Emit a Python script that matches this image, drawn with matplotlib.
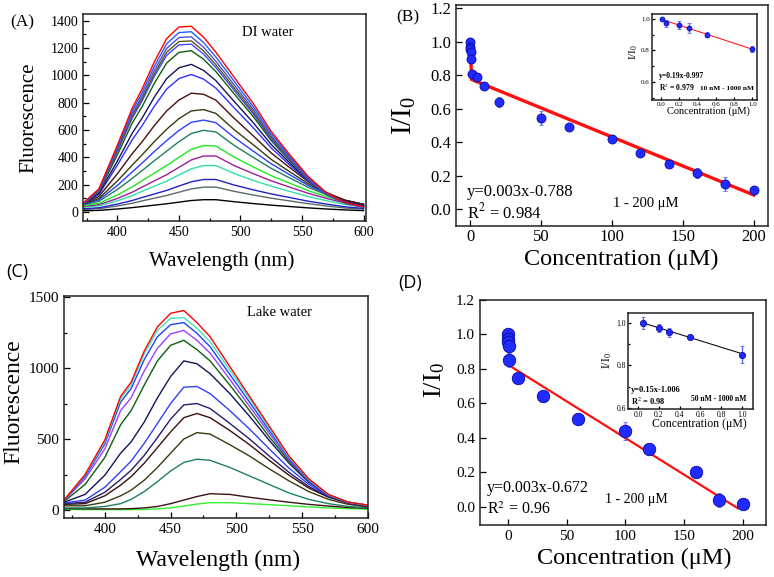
import matplotlib
matplotlib.use('Agg')
import matplotlib.pyplot as plt
from matplotlib.ticker import MultipleLocator

plt.rcParams['font.family'] = ['Liberation Serif', 'DejaVu Serif']
plt.rcParams['mathtext.fontset'] = 'stix'

W, H = 774, 577

# wavelength grid (nm) shared by all spectra
wl = [369, 385, 400, 412, 420, 430, 440, 450, 460, 470, 480, 495, 510, 525, 540, 555, 570, 585, 600]

# (A) DI water spectra, bottom -> top
spec_a = [
    [8, 12, 22, 32, 40, 50, 60, 72, 84, 90, 90, 75, 62, 50, 40, 30, 22, 15, 10],
    [17, 24, 44, 64, 81, 101, 121, 145, 169, 182, 182, 151, 125, 101, 81, 61, 44, 29, 20],
    [22, 31, 58, 84, 106, 132, 158, 190, 221, 238, 238, 197, 163, 132, 106, 79, 58, 38, 26],
    [31, 45, 82, 120, 151, 189, 226, 271, 316, 340, 340, 281, 233, 189, 151, 113, 82, 55, 38],
    [37, 54, 99, 145, 182, 228, 273, 327, 381, 410, 410, 339, 282, 228, 182, 137, 99, 66, 46],
    [42, 64, 125, 184, 229, 285, 340, 401, 459, 487, 483, 401, 332, 266, 211, 156, 112, 74, 50],
    [46, 79, 165, 246, 303, 376, 446, 515, 575, 598, 586, 487, 402, 319, 249, 181, 126, 82, 55],
    [47, 89, 195, 293, 358, 443, 523, 597, 657, 673, 654, 545, 448, 353, 273, 195, 133, 85, 56],
    [48, 99, 228, 343, 418, 516, 606, 684, 740, 750, 722, 602, 495, 385, 295, 207, 138, 86, 57],
    [48, 114, 281, 427, 514, 633, 740, 820, 870, 862, 819, 685, 561, 432, 325, 222, 142, 86, 55],
    [41, 129, 344, 529, 632, 775, 900, 977, 1007, 973, 907, 761, 621, 469, 344, 225, 134, 75, 45],
    [41, 138, 374, 577, 687, 842, 977, 1056, 1081, 1037, 962, 808, 658, 494, 360, 232, 135, 74, 44],
    [37, 148, 420, 651, 771, 943, 1091, 1169, 1181, 1119, 1028, 864, 703, 522, 375, 235, 130, 67, 38],
    [35, 154, 443, 687, 813, 994, 1148, 1224, 1229, 1156, 1057, 890, 723, 534, 380, 235, 126, 63, 35],
    [35, 156, 452, 700, 829, 1013, 1170, 1248, 1253, 1179, 1078, 907, 737, 544, 387, 240, 129, 64, 35],
    [36, 160, 463, 717, 849, 1037, 1198, 1278, 1283, 1207, 1103, 929, 755, 557, 397, 245, 132, 66, 36],
    [37, 165, 476, 738, 873, 1067, 1232, 1314, 1320, 1241, 1135, 956, 776, 573, 408, 253, 136, 68, 37],
    [39, 170, 490, 760, 900, 1100, 1270, 1355, 1360, 1280, 1170, 985, 800, 590, 420, 260, 140, 70, 38],
]
colors_a = ['#000000', '#5a6a6a', '#2020c8', '#30e0a8', '#9a2098', '#20e820', '#1f7f5f', '#2a40ff',
            '#3a3a10', '#4a1010', '#3030ff', '#14145a', '#0f5f0f', '#4545ff', '#5a5a18', '#5050c8',
            '#2060ff', '#ff0000']

# (C) lake water spectra, bottom -> top
spec_c = [
    [5, 3, 3, 3, 3, 4, 8, 15, 28, 42, 52, 52, 45, 38, 30, 22, 15, 10, 6],
    [10, 8, 8, 8, 10, 15, 25, 45, 70, 95, 115, 110, 90, 72, 55, 40, 28, 18, 12],
    [15, 15, 25, 45, 75, 130, 200, 275, 335, 358, 350, 300, 240, 180, 120, 75, 45, 25, 15],
    [30, 30, 55, 100, 140, 210, 300, 400, 500, 545, 535, 460, 380, 290, 205, 130, 75, 40, 22],
    [40, 45, 100, 175, 235, 330, 440, 550, 650, 680, 650, 560, 460, 350, 245, 155, 90, 48, 26],
    [45, 55, 125, 215, 280, 385, 510, 640, 740, 750, 715, 610, 500, 380, 265, 165, 95, 50, 28],
    [50, 70, 160, 270, 345, 470, 610, 750, 865, 870, 820, 700, 570, 430, 295, 180, 100, 52, 30],
    [55, 110, 245, 400, 480, 620, 790, 940, 1050, 1030, 960, 820, 660, 490, 330, 195, 105, 55, 32],
    [60, 180, 370, 600, 700, 880, 1050, 1160, 1195, 1130, 1050, 880, 700, 515, 345, 200, 105, 55, 32],
    [65, 220, 430, 700, 790, 980, 1140, 1240, 1265, 1195, 1105, 920, 730, 540, 355, 205, 105, 55, 33],
    [68, 235, 465, 760, 855, 1060, 1220, 1305, 1320, 1245, 1150, 955, 760, 560, 365, 210, 107, 55, 34],
    [70, 245, 480, 785, 880, 1100, 1265, 1350, 1355, 1280, 1185, 985, 785, 575, 372, 215, 108, 55, 34],
    [70, 250, 493, 800, 900, 1120, 1290, 1385, 1405, 1320, 1220, 1010, 800, 590, 380, 220, 110, 55, 35],
]
colors_c = ['#30f030', '#3a1414', '#1f7f5f', '#3a3a10', '#3a1010', '#2a1a70', '#3040ff', '#14145a',
            '#0f5f0f', '#9a40ff', '#2040ff', '#40e8b8', '#ff0000']

# (B) DI water quenching
conc_b = [0.01, 0.05, 0.2, 0.3, 0.5, 1, 5, 10, 20, 50, 70, 100, 120, 140, 160, 180, 200]
ratio_b = [1.0, 0.97, 0.96, 0.94, 0.90, 0.81, 0.79, 0.735, 0.64, 0.545, 0.49, 0.42, 0.335, 0.27, 0.215, 0.15, 0.115]
err_b = [0.005, 0.02, 0.025, 0.03, 0.015, 0.02, 0.01, 0.015, 0.03, 0.04, 0.01, 0.02, 0.01, 0.01, 0.03, 0.04, 0.01]
fit_b_x = [0, 1, 200]
fit_b_y = [1.0, 0.775, 0.085]
ins_b_x = [0.01, 0.05, 0.2, 0.3, 0.5, 1.0]
ins_b_y = [1.0, 0.97, 0.96, 0.94, 0.90, 0.81]
ins_b_err = [0.005, 0.02, 0.025, 0.03, 0.015, 0.02]
ins_b_fit_x = [0, 1.0]
ins_b_fit_y = [0.997, 0.807]

# (D) lake water quenching
conc_d = [0.05, 0.2, 0.3, 0.5, 1, 8, 30, 60, 100, 120, 160, 180, 200]
ratio_d = [1.0, 0.975, 0.955, 0.935, 0.85, 0.745, 0.645, 0.51, 0.44, 0.335, 0.2, 0.04, 0.015]
err_d = [0.03, 0.02, 0.02, 0.008, 0.04, 0.01, 0.01, 0.01, 0.05, 0.02, 0.01, 0.04, 0.01]
fit_d_x = [0, 1, 196]
fit_d_y = [1.0, 0.82, -0.008]
ins_d_x = [0.05, 0.2, 0.3, 0.5, 1.0]
ins_d_y = [1.0, 0.975, 0.955, 0.935, 0.85]
ins_d_err = [0.03, 0.02, 0.02, 0.008, 0.04]
ins_d_fit_x = [0.05, 1.0]
ins_d_fit_y = [1.0, 0.855]

fig = plt.figure(figsize=(W / 100, H / 100), dpi=100)


def box(l, t, r, b):
    return fig.add_axes([l / W, 1 - b / H, (r - l) / W, (b - t) / H])


def txt(x, y, s, **kw):
    kw.setdefault('ha', 'center')
    kw.setdefault('va', 'center')
    fig.text(x / W, 1 - y / H, s, **kw)


def frame(ax, size):
    for sp in ax.spines.values():
        sp.set_linewidth(1.1)
        sp.set_color('#222222')
    ax.tick_params(which='both', direction='in', labelsize=size, width=0.9)
    ax.tick_params(which='major', length=4)
    ax.tick_params(which='minor', length=2.5)


# ---- (A)
ax = box(83, 14, 366, 221)
for row, c in zip(spec_a, colors_a):
    ax.plot(wl, row, color=c, lw=1.0)
ax.set_xlim(372, 602)
ax.set_ylim(-66, 1450)
ax.xaxis.set_major_locator(MultipleLocator(50))
ax.xaxis.set_minor_locator(MultipleLocator(25))
ax.yaxis.set_major_locator(MultipleLocator(200))
ax.yaxis.set_minor_locator(MultipleLocator(100))
frame(ax, 10)
txt(242, 32, 'DI water', ha='left', fontsize=10.5)
txt(29, 118, 'Fluorescence', rotation=90, fontsize=15)
txt(222, 261, 'Wavelength (nm)', fontsize=15)
txt(22, 22, '(A)', fontsize=12.5)

# ---- (C)
ax = box(64, 296, 368, 518)
for row, c in zip(spec_c, colors_c):
    ax.plot(wl, row, color=c, lw=1.0)
ax.set_xlim(369, 600)
ax.set_ylim(-56, 1507)
ax.xaxis.set_major_locator(MultipleLocator(50))
ax.xaxis.set_minor_locator(MultipleLocator(25))
ax.yaxis.set_major_locator(MultipleLocator(500))
ax.yaxis.set_minor_locator(MultipleLocator(250))
frame(ax, 11)
txt(247, 312, 'Lake water', ha='left', fontsize=10.5)
txt(14, 402, 'Fluorescence', rotation=90, fontsize=17)
txt(218, 560, 'Wavelength (nm)', fontsize=17)
txt(17, 272, '(C)', fontsize=13, family=['Open Sans', 'DejaVu Sans'])

marker_kw = dict(fmt='o', color='#1f2bff', mec='#0a0aa0', mew=0.6, ecolor='#5a6aff', elinewidth=1.0,
                 capsize=1.5, zorder=3)

# ---- (B)
ax = box(456, 5, 768, 226)
ax.plot(fit_b_x, fit_b_y, color='#ff1010', lw=2.4, zorder=2)
ax.errorbar(conc_b, ratio_b, yerr=err_b, ms=6.5, **marker_kw)
ax.set_xlim(-10, 210)
ax.set_ylim(-0.1, 1.22)
ax.xaxis.set_major_locator(MultipleLocator(50))
ax.yaxis.set_major_locator(MultipleLocator(0.2))
ax.yaxis.set_major_formatter('{x:.1f}')
frame(ax, 12)
ax.tick_params(axis='x', pad=2)
txt(467, 192, 'y=0.003x-0.788', ha='left', fontsize=12)
txt(467, 212, 'R$^2$ = 0.984', ha='left', fontsize=12)
txt(646, 204, '1 - 200 μM', fontsize=10.5)
txt(404, 115, r'$\mathregular{I/I_0}$', rotation=90, fontsize=21)
txt(621, 259, 'Concentration (μM)', fontsize=17.5)
txt(408, 17, '(B)', fontsize=12.5)

ax = box(652, 14, 757, 100)
ax.plot(ins_b_fit_x, ins_b_fit_y, color='#ff2020', lw=0.8, zorder=2)
ax.errorbar(ins_b_x, ins_b_y, yerr=ins_b_err, ms=3.5, **marker_kw)
ax.set_xlim(-0.1, 1.05)
ax.set_ylim(0.486, 1.03)
ax.xaxis.set_major_locator(MultipleLocator(0.2))
ax.yaxis.set_major_locator(MultipleLocator(0.2))
ax.yaxis.set_minor_locator(MultipleLocator(0.1))
ax.xaxis.set_major_formatter('{x:.1f}')
ax.yaxis.set_major_formatter('{x:.1f}')
frame(ax, 5)
ax.tick_params(which='major', length=2.5, pad=1.5)
ax.tick_params(which='minor', length=1.5)
txt(659, 76, 'y=0.19x-0.997', ha='left', fontsize=5.5, fontweight='bold')
txt(659, 87, 'R$^2$ = 0.979', ha='left', fontsize=5.5, fontweight='bold')
txt(754, 89, '10 nM - 1000 nM', ha='right', fontsize=5.3, fontweight='bold')
txt(634, 52, r'$\mathregular{I/I_0}$', rotation=90, fontsize=8)
txt(708, 111, 'Concentration (μM)', fontsize=7.5)

# ---- (D)
ax = box(480, 300, 766, 525)
ax.plot(fit_d_x, fit_d_y, color='#ff1010', lw=1.6, zorder=2)
ax.errorbar(conc_d, ratio_d, yerr=err_d, ms=9, **marker_kw)
ax.set_xlim(-24, 220)
ax.set_ylim(-0.105, 1.2)
ax.xaxis.set_major_locator(MultipleLocator(50))
ax.yaxis.set_major_locator(MultipleLocator(0.2))
ax.yaxis.set_major_formatter('{x:.1f}')
frame(ax, 11)
txt(487, 488, 'y=0.003x-0.672', ha='left', fontsize=11.5)
txt(487, 510, 'R$^2$ = 0.96', ha='left', fontsize=11.5)
txt(636, 500, '1 - 200 μM', fontsize=10)
txt(435, 380, r'$\mathregular{I/I_0}$', rotation=90, fontsize=19)
txt(634, 558, 'Concentration (μM)', fontsize=17.5)
txt(410, 283, '(D)', fontsize=13, family=['Open Sans', 'DejaVu Sans'])

ax = box(628, 313, 753, 409)
ax.plot(ins_d_fit_x, ins_d_fit_y, color='#111111', lw=0.8, zorder=2)
ax.errorbar(ins_d_x, ins_d_y, yerr=ins_d_err, ms=4.5, **marker_kw)
ax.set_xlim(-0.096, 1.106)
ax.set_ylim(0.594, 1.047)
ax.xaxis.set_major_locator(MultipleLocator(0.2))
ax.yaxis.set_major_locator(MultipleLocator(0.2))
ax.yaxis.set_minor_locator(MultipleLocator(0.1))
ax.xaxis.set_major_formatter('{x:.1f}')
ax.yaxis.set_major_formatter('{x:.1f}')
frame(ax, 5.5)
ax.tick_params(which='major', length=2.5, pad=1.5)
ax.tick_params(which='minor', length=1.5)
txt(631, 390, 'y=0.15x-1.006', ha='left', fontsize=6, fontweight='bold')
txt(631, 401, 'R$^2$ = 0.98', ha='left', fontsize=6, fontweight='bold')
txt(746, 399, '50 nM - 1000 nM', ha='right', fontsize=5.5, fontweight='bold')
txt(607, 360, r'$\mathregular{I/I_0}$', rotation=90, fontsize=8.5)
txt(699, 424, 'Concentration (μM)', fontsize=8.5)

fig.savefig('out.png', dpi=100)
